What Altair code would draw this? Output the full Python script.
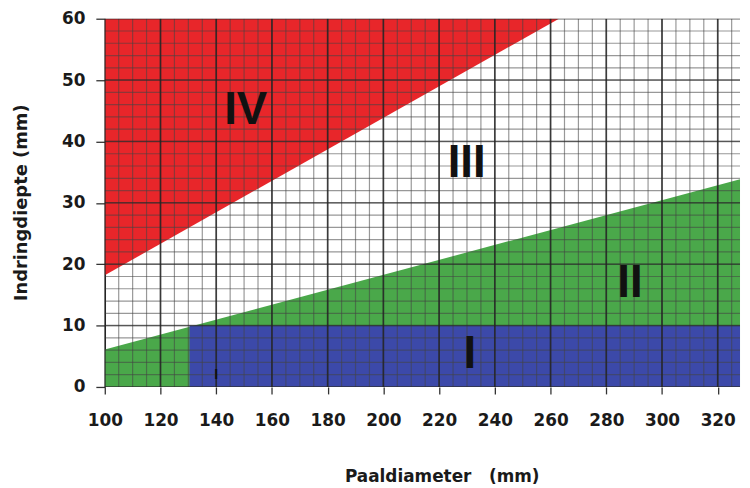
import altair as alt
import pandas as pd

# ---- data ----
x_domain = [100, 328]
y_domain = [0, 60]
x_ticks = [100, 120, 140, 160, 180, 200, 220, 240, 260, 280, 300, 320]
y_ticks = [0, 10, 20, 30, 40, 50, 60]
grid_x_minor = list(range(100, 331, 5))
grid_y_minor = list(range(0, 61, 2))

# zone IV (red): above the line from (100, 18.2) to (263, 60)
zone4_x = [100, 263]
zone4_y = [18.2, 60]
# zone II (green): below the line from (100, 6.1) to (330, 34.1)
zone2_x = [100, 330]
zone2_y = [6.1, 34.1]
# zone I (blue): rectangle
zone1_x = [130.4, 330]
zone1_y = [0, 10]

labels = ["IV", "III", "II", "I"]
label_x = [150.6, 229.9, 288.5, 231.0]
label_y = [45.1, 36.4, 16.9, 5.3]
small_label = ["I"]
small_x = [140]
small_y = [1.9]

RED = "#e8262a"
GREEN = "#4aa84a"
BLUE = "#3c49a9"

xs = alt.Scale(domain=x_domain, nice=False, zero=False)
ys = alt.Scale(domain=y_domain, nice=False, zero=True)

x_axis = alt.Axis(
    values=x_ticks, grid=False, title="Paaldiameter\u00a0\u00a0\u00a0(mm)",
    labelFont="DejaVu Sans", labelFontWeight="bold", labelFontSize=17, labelColor="#1a1a1a",
    labelFlush=False, labelOverlap=False,
    tickSize=7, tickColor="#333", tickWidth=1.3, labelPadding=19, domain=False,
    titleFont="DejaVu Sans", titleFontWeight="bold", titleFontSize=17, titleColor="#1a1a1a",
    titleX=339.5, titleY=95, titleAlign="center", titleBaseline="alphabetic",
)
y_axis = alt.Axis(
    values=y_ticks, grid=False, title="Indringdiepte (mm)",
    labelFont="DejaVu Sans", labelFontWeight="bold", labelFontSize=17, labelColor="#1a1a1a",
    labelFlush=False, labelOverlap=False,
    tickSize=9, tickColor="#333", tickWidth=1.3, labelPadding=11,
    domain=True, domainColor="#222", domainWidth=1.5,
    titleFont="DejaVu Sans", titleFontWeight="bold", titleFontSize=18, titleColor="#1a1a1a",
    titleAngle=270, titleX=-84, titleY=185, titleAlign="center", titleBaseline="middle",
)

df4 = pd.DataFrame({"x": zone4_x, "y": zone4_y, "top": [y_domain[1]] * len(zone4_x)})
df2 = pd.DataFrame({"x": zone2_x, "y": zone2_y, "bot": [0] * len(zone2_x)})
df1 = pd.DataFrame({"x": [zone1_x[0]], "x2": [zone1_x[1]], "y": [zone1_y[0]], "y2": [zone1_y[1]]})
dfl = pd.DataFrame({"t": labels, "x": label_x, "y": label_y})
dfs = pd.DataFrame({"t": small_label, "x": small_x, "y": small_y})

red = alt.Chart(df4).mark_area(color=RED, opacity=1, clip=True).encode(
    x=alt.X("x:Q", scale=xs, axis=x_axis),
    y=alt.Y("y:Q", scale=ys, axis=y_axis),
    y2="top:Q",
)
green = alt.Chart(df2).mark_area(color=GREEN, opacity=1, clip=True).encode(
    x=alt.X("x:Q", scale=xs), y=alt.Y("y:Q", scale=ys), y2="bot:Q"
)
blue = alt.Chart(df1).mark_rect(color=BLUE, clip=True).encode(
    x=alt.X("x:Q", scale=xs), x2="x2:Q", y=alt.Y("y:Q", scale=ys), y2="y2:Q"
)

gx_minor = alt.Chart(pd.DataFrame({"v": grid_x_minor})).mark_rule(
    color="#444", opacity=0.55, strokeWidth=1.2, clip=True
).encode(x=alt.X("v:Q", scale=xs))
gy_minor = alt.Chart(pd.DataFrame({"v": grid_y_minor})).mark_rule(
    color="#444", opacity=0.55, strokeWidth=1.2, clip=True
).encode(y=alt.Y("v:Q", scale=ys))
gx_major = alt.Chart(pd.DataFrame({"v": x_ticks})).mark_rule(
    color="#222", opacity=0.8, strokeWidth=1.7, clip=True
).encode(x=alt.X("v:Q", scale=xs))
gy_major = alt.Chart(pd.DataFrame({"v": y_ticks})).mark_rule(
    color="#222", opacity=0.55, strokeWidth=1.5, clip=True
).encode(y=alt.Y("v:Q", scale=ys))

txt = alt.Chart(dfl).mark_text(
    font="Liberation Sans", fontWeight="bold", fontSize=46, color="#111",
    align="center", baseline="middle",
).encode(x=alt.X("x:Q", scale=xs), y=alt.Y("y:Q", scale=ys), text="t:N")
small = alt.Chart(dfs).mark_text(
    font="Liberation Sans", fontWeight="bold", fontSize=14, color="#111",
    align="center", baseline="middle",
).encode(x=alt.X("x:Q", scale=xs), y=alt.Y("y:Q", scale=ys), text="t:N")

chart = alt.layer(
    red, green, blue, gx_minor, gy_minor, gx_major, gy_major, txt, small
).properties(
    width=640, height=371,
    autosize=alt.AutoSizeParams(type="none"),
    padding={"left": 97.5, "top": 9, "right": 2, "bottom": 100},
    background="white",
).configure_view(stroke=None)

chart.save("out.html", embed_options={"renderer": "svg", "actions": False})
